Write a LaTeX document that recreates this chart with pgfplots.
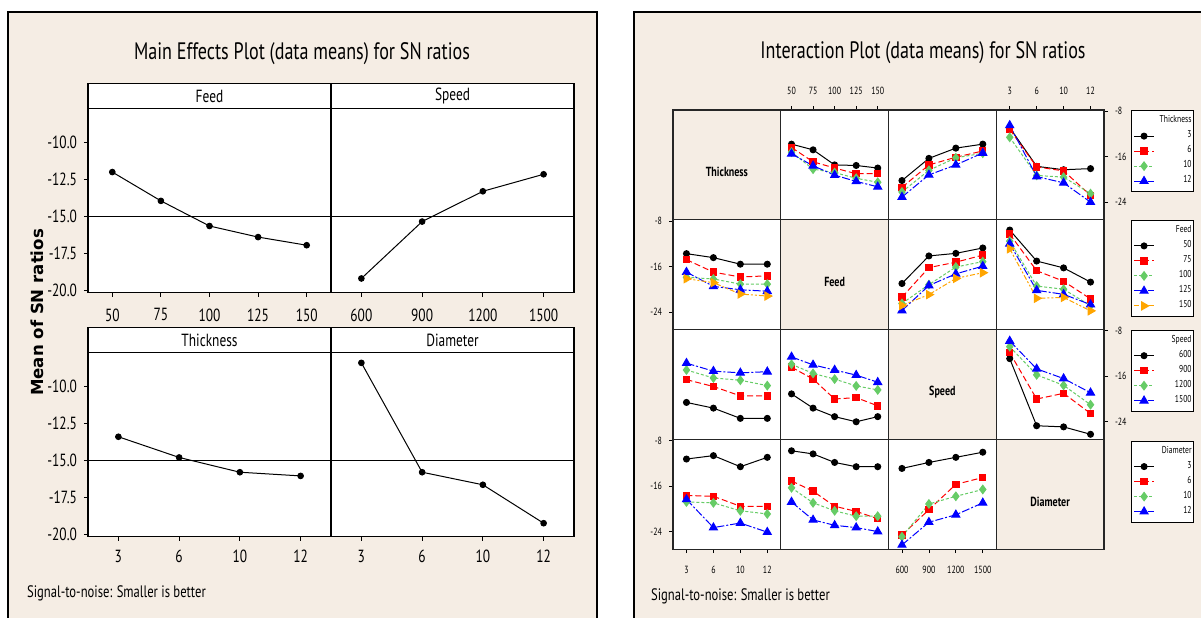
\documentclass[border=0pt]{standalone}
\usepackage{fontspec}
\setmainfont{PT Sans}[FakeStretch=0.76]
\newfontfamily\ylabfont{DejaVu Sans}
\usepackage{graphicx}
\usepackage{pgfplots}
\usepackage{pgfplotstable}
\pgfplotsset{compat=1.18}
\definecolor{bg}{RGB}{245,237,228}
\definecolor{mred}{RGB}{255,0,0}
\definecolor{mgreen}{RGB}{102,204,102}
\definecolor{mblue}{RGB}{0,0,255}
\definecolor{morange}{RGB}{255,165,0}

% ---------- Main effects data ----------
\pgfplotstableread{
x y
0 -12.0
1 -13.95
2 -15.65
3 -16.4
4 -16.95
}\meFeed
\pgfplotstableread{
x y
0 -19.2
1 -15.35
2 -13.3
3 -12.15
}\meSpeed
\pgfplotstableread{
x y
0 -13.4
1 -14.8
2 -15.8
3 -16.05
}\meThick
\pgfplotstableread{
x y
0 -8.4
1 -15.8
2 -16.65
3 -19.25
}\meDiam

% ---------- Interaction data ----------
% row 1: Thickness series (3,6,10,12)
\pgfplotstableread{
x a b c d
0 -13.8 -14.4 -15.2 -15.5
1 -14.8 -16.9 -18.2 -17.6
2 -17.45 -18.0 -18.8 -19.25
3 -17.55 -19.0 -19.8 -20.35
4 -18.0 -19.0 -20.5 -21.3
}\tAB
\pgfplotstableread{
x a b c d
0 -20.2 -21.4 -22.2 -23.1
1 -16.3 -17.45 -18.4 -19.2
2 -14.5 -16.1 -16.2 -17.45
3 -13.8 -15.0 -15.4 -15.35
}\tAC
\pgfplotstableread{
x a b c d
0 -10.9 -11.2 -12.6 -10.5
1 -17.7 -17.8 -19.3 -19.5
2 -18.3 -18.5 -19.6 -20.6
3 -18.1 -22.8 -22.5 -24.0
}\tAD
% row 2: Feed series (50,75,100,125,150)
\pgfplotstableread{
x a b c d e
0 -13.75 -14.8 -17.9 -17.0 -18.15
1 -14.45 -17.0 -18.2 -19.5 -18.85
2 -15.6 -17.85 -19.1 -20.1 -20.85
3 -15.6 -17.65 -19.1 -20.35 -21.2
}\tBA
\pgfplotstableread{
x a b c d e
0 -19.0 -21.4 -22.5 -23.75 -22.85
1 -14.15 -16.2 -19.2 -19.35 -20.95
2 -13.7 -15.25 -16.1 -17.3 -18.1
3 -12.75 -14.0 -15.15 -15.95 -17.1
}\tBC
\pgfplotstableread{
x a b c d e
0 -9.6 -10.3 -11.55 -12.0 -12.9
1 -15.05 -16.75 -19.45 -20.2 -21.6
2 -16.25 -18.6 -20.0 -20.9 -21.45
3 -18.75 -21.7 -22.9 -22.7 -23.8
}\tBD
% row 3: Speed series (600,900,1200,1500)
\pgfplotstableread{
x a b c d
0 -20.6 -16.6 -14.9 -13.7
1 -21.6 -17.8 -16.3 -15.1
2 -23.4 -19.45 -16.7 -15.4
3 -23.4 -19.45 -17.65 -15.2
}\tCA
\pgfplotstableread{
x a b c d
0 -19.1 -14.4 -13.9 -12.6
1 -21.6 -16.5 -15.5 -14.0
2 -23.1 -20.0 -16.5 -14.9
3 -24.0 -19.75 -17.7 -15.8
4 -23.1 -21.2 -18.4 -17.05
}\tCB
\pgfplotstableread{
x a b c d
0 -12.9 -11.85 -10.8 -9.8
1 -24.7 -20.0 -15.75 -14.7
2 -24.9 -19.0 -17.6 -16.4
3 -26.2 -22.55 -21.0 -18.9
}\tCD
% row 4: Diameter series (3,6,10,12)
\pgfplotstableread{
x a b c d
0 -11.25 -17.65 -18.8 -18.35
1 -10.65 -17.8 -18.95 -23.3
2 -12.6 -19.55 -20.35 -22.5
3 -10.95 -19.55 -20.9 -24.1
}\tDA
\pgfplotstableread{
x a b c d
0 -9.8 -15.1 -16.3 -18.8
1 -10.35 -16.9 -18.95 -21.95
2 -11.85 -19.55 -20.35 -22.9
3 -12.6 -20.45 -21.3 -23.3
4 -12.6 -21.75 -21.3 -24.0
}\tDB
\pgfplotstableread{
x a b c d
0 -12.9 -24.6 -24.9 -26.35
1 -11.85 -20.15 -19.15 -22.35
2 -10.95 -15.7 -17.8 -21.05
3 -10.05 -14.5 -16.6 -18.95
}\tDC

\pgfplotsset{
  me/.style={scale only axis, width=121.5pt, height=92pt, xmin=-0.5,
    ymin=-20.15, ymax=-7.7, ytick=\empty,
    axis line style={line width=0.75pt},
    axis background/.style={fill=white},
    tick align=outside, major tick length=2pt,
    tick style={black, line width=0.5pt},
    xtick pos=left, ytick pos=left,
    tick label style={font=\fontsize{8.8}{9}\selectfont},
    clip=false},
  meline/.style={black, line width=0.5pt, mark=*, mark size=1.4pt},
  meref/.style={black, line width=0.5pt, no marks},
  ip/.style={scale only axis, width=53.875pt, height=54.9pt,
    ymin=-27.1, ymax=-7.8, xmin=-0.5, xtick=\empty, ytick=\empty,
    axis line style={line width=0.6pt, black!85},
    axis background/.style={fill=white},
    tick align=outside, major tick length=2pt,
    tick style={black, line width=0.4pt},
    tick label style={font=\fontsize{5.2}{5.5}\selectfont},
    legend image code/.code={\draw[mark repeat=2,mark phase=2] plot coordinates {(0pt,0pt)(5pt,0pt)(10pt,0pt)};},
    legend cell align=right,
    legend style={draw=black, line width=0.6pt, fill=white,
      font=\fontsize{5}{6}\selectfont, inner xsep=1pt, inner ysep=1.5pt,
      anchor=north west, /tikz/column sep=1pt,
      nodes={inner sep=0pt, text height=4.5pt, text depth=3pt}}},
  diag/.style={ip, xmax=1, axis background/.style={fill=bg}},
  sA/.style={black, solid, line width=0.5pt, mark=*, mark size=1.5pt, mark options={solid}},
  sB/.style={mred, dash pattern=on 3pt off 1.5pt, line width=0.5pt, mark=square*, mark size=1.6pt, mark options={solid}},
  sC/.style={mgreen, dash pattern=on 1.5pt off 1pt, line width=0.5pt, mark=diamond*, mark size=2.1pt, mark options={solid}},
  sD/.style={mblue, dash pattern=on 4pt off 1pt on 1pt off 1pt, line width=0.5pt, mark=triangle*, mark size=2.3pt, mark options={solid}},
  sE/.style={morange, dash pattern=on 2.5pt off 1pt on 1pt off 1pt on 1pt off 1pt, line width=0.5pt, mark=triangle*, mark size=2.3pt, mark options={solid, rotate=-90}},
}
\newcommand{\lb}[1]{\makebox[17.5pt][r]{#1}}
\newcommand{\dlab}[1]{\node[font=\bfseries\fontsize{6.6}{7}\selectfont] at (rel axis cs:0.5,0.435) {#1};}

\begin{document}
\begin{tikzpicture}
\path[use as bounding box] (0,0) rectangle (600.5pt,-308.5pt);
% frames
\draw[line width=0.75pt, fill=bg] (4pt,-6pt) rectangle (298.5pt,-320pt);
\draw[line width=0.75pt, fill=bg] (317pt,-6pt) rectangle (610pt,-320pt);
% titles
\node[font=\fontsize{11.9}{13}\selectfont] at (151pt,-27pt) {Main Effects Plot (data means) for SN ratios};
\node[font=\fontsize{11.9}{13}\selectfont] at (461.5pt,-26.5pt) {Interaction Plot (data means) for SN ratios};
\node[font=\fontsize{8.3}{9}\selectfont, anchor=west] at (10pt,-296.5pt) {Signal-to-noise: Smaller is better};
\node[font=\fontsize{8.3}{9}\selectfont, anchor=west] at (322pt,-298.3pt) {Signal-to-noise: Smaller is better};
\node[font=\ylabfont\bfseries\fontsize{8.3}{9}\selectfont, rotate=90] at (18.6pt,-156.25pt) {Mean of SN ratios};

% ===== Main effects =====
\begin{axis}[me, at={(44pt,-146.25pt)}, anchor=south west, xmax=4.5,
  xtick={0,...,4}, xticklabels={50,75,100,125,150},
  ytick={-20,-17.5,-15,-12.5,-10}, yticklabels={-20.0,-17.5,-15.0,-12.5,-10.0},
  xticklabel style={yshift=-2.5pt}]
\addplot[meref] coordinates {(-0.5,-15) (4.5,-15)};
\addplot[meline] table[x=x,y=y]{\meFeed};
\draw[line width=0.75pt, fill=white] (rel axis cs:0,1) rectangle (rel axis cs:1,1.1359);
\node[font=\fontsize{8.8}{9}\selectfont] at (rel axis cs:0.5,1.068) {Feed};
\end{axis}
\begin{axis}[me, at={(165.5pt,-146.25pt)}, anchor=south west, xmax=3.5,
  xtick={0,...,3}, xticklabels={600,900,1200,1500},
  xticklabel style={yshift=-2.5pt}]
\addplot[meref] coordinates {(-0.5,-15) (3.5,-15)};
\addplot[meline] table[x=x,y=y]{\meSpeed};
\draw[line width=0.75pt, fill=white] (rel axis cs:0,1) rectangle (rel axis cs:1,1.1359);
\node[font=\fontsize{8.8}{9}\selectfont] at (rel axis cs:0.5,1.068) {Speed};
\end{axis}
\begin{axis}[me, at={(44pt,-268.25pt)}, anchor=south west, xmax=3.5,
  xtick={0,...,3}, xticklabels={3,6,10,12},
  ytick={-20,-17.5,-15,-12.5,-10}, yticklabels={-20.0,-17.5,-15.0,-12.5,-10.0},
  xticklabel style={yshift=-1.3pt}]
\addplot[meref] coordinates {(-0.5,-15) (3.5,-15)};
\addplot[meline] table[x=x,y=y]{\meThick};
\draw[line width=0.75pt, fill=white] (rel axis cs:0,1) rectangle (rel axis cs:1,1.1359);
\node[font=\fontsize{8.8}{9}\selectfont] at (rel axis cs:0.5,1.068) {Thickness};
\end{axis}
\begin{axis}[me, at={(165.5pt,-268.25pt)}, anchor=south west, xmax=3.5,
  xtick={0,...,3}, xticklabels={3,6,10,12},
  xticklabel style={yshift=-1.3pt}]
\addplot[meref] coordinates {(-0.5,-15) (3.5,-15)};
\addplot[meline] table[x=x,y=y]{\meDiam};
\draw[line width=0.75pt, fill=white] (rel axis cs:0,1) rectangle (rel axis cs:1,1.1359);
\node[font=\fontsize{8.8}{9}\selectfont] at (rel axis cs:0.5,1.068) {Diameter};
\end{axis}

% ===== Interaction plot =====
% Row 1
\begin{axis}[diag, at={(336.5pt,-109.9pt)}, anchor=south west]
\dlab{Thickness}
\end{axis}
\begin{axis}[ip, at={(390.375pt,-109.9pt)}, anchor=south west, xmax=4.5,
  xtick={0,...,4}, xticklabels={50,75,100,125,150},
  xtick pos=right, xticklabel pos=right, xticklabel style={yshift=2pt}]
\addplot[sA] table[x=x,y=a]{\tAB};
\addplot[sB] table[x=x,y=b]{\tAB};
\addplot[sC] table[x=x,y=c]{\tAB};
\addplot[sD] table[x=x,y=d]{\tAB};
\end{axis}
\begin{axis}[ip, at={(444.25pt,-109.9pt)}, anchor=south west, xmax=3.5]
\addplot[sA] table[x=x,y=a]{\tAC};
\addplot[sB] table[x=x,y=b]{\tAC};
\addplot[sC] table[x=x,y=c]{\tAC};
\addplot[sD] table[x=x,y=d]{\tAC};
\end{axis}
\begin{axis}[ip, at={(498.125pt,-109.9pt)}, anchor=south west, xmax=3.5,
  xtick={0,...,3}, xticklabels={3,6,10,12},
  xtick pos=right, xticklabel pos=right, xticklabel style={yshift=2pt},
  ytick={-24,-16,-8}, yticklabels={-24,-16,-8}, ytick pos=right, yticklabel pos=right,
  legend style={at={(1.25,1)}}]
\addlegendimage{empty legend}\addlegendentry{\lb{Thickness}}
\addplot[sA] table[x=x,y=a]{\tAD}; \addlegendentry{\lb{3}}
\addplot[sB] table[x=x,y=b]{\tAD}; \addlegendentry{\lb{6}}
\addplot[sC] table[x=x,y=c]{\tAD}; \addlegendentry{\lb{10}}
\addplot[sD] table[x=x,y=d]{\tAD}; \addlegendentry{\lb{12}}
\end{axis}
% Row 2
\begin{axis}[ip, at={(336.5pt,-164.8pt)}, anchor=south west, xmax=3.5,
  ytick={-24,-16,-8}, yticklabels={-24,-16,-8}, ytick pos=left]
\addplot[sA] table[x=x,y=a]{\tBA};
\addplot[sB] table[x=x,y=b]{\tBA};
\addplot[sC] table[x=x,y=c]{\tBA};
\addplot[sD] table[x=x,y=d]{\tBA};
\addplot[sE] table[x=x,y=e]{\tBA};
\end{axis}
\begin{axis}[diag, at={(390.375pt,-164.8pt)}, anchor=south west]
\dlab{Feed}
\end{axis}
\begin{axis}[ip, at={(444.25pt,-164.8pt)}, anchor=south west, xmax=3.5]
\addplot[sA] table[x=x,y=a]{\tBC};
\addplot[sB] table[x=x,y=b]{\tBC};
\addplot[sC] table[x=x,y=c]{\tBC};
\addplot[sD] table[x=x,y=d]{\tBC};
\addplot[sE] table[x=x,y=e]{\tBC};
\end{axis}
\begin{axis}[ip, at={(498.125pt,-164.8pt)}, anchor=south west, xmax=3.5,
  legend style={at={(1.25,1)}}]
\addlegendimage{empty legend}\addlegendentry{\lb{Feed}}
\addplot[sA] table[x=x,y=a]{\tBD}; \addlegendentry{\lb{50}}
\addplot[sB] table[x=x,y=b]{\tBD}; \addlegendentry{\lb{75}}
\addplot[sC] table[x=x,y=c]{\tBD}; \addlegendentry{\lb{100}}
\addplot[sD] table[x=x,y=d]{\tBD}; \addlegendentry{\lb{125}}
\addplot[sE] table[x=x,y=e]{\tBD}; \addlegendentry{\lb{150}}
\end{axis}
% Row 3
\begin{axis}[ip, at={(336.5pt,-219.7pt)}, anchor=south west, xmax=3.5]
\addplot[sA] table[x=x,y=a]{\tCA};
\addplot[sB] table[x=x,y=b]{\tCA};
\addplot[sC] table[x=x,y=c]{\tCA};
\addplot[sD] table[x=x,y=d]{\tCA};
\end{axis}
\begin{axis}[ip, at={(390.375pt,-219.7pt)}, anchor=south west, xmax=4.5]
\addplot[sA] table[x=x,y=a]{\tCB};
\addplot[sB] table[x=x,y=b]{\tCB};
\addplot[sC] table[x=x,y=c]{\tCB};
\addplot[sD] table[x=x,y=d]{\tCB};
\end{axis}
\begin{axis}[diag, at={(444.25pt,-219.7pt)}, anchor=south west]
\dlab{Speed}
\end{axis}
\begin{axis}[ip, at={(498.125pt,-219.7pt)}, anchor=south west, xmax=3.5,
  ytick={-24,-16,-8}, yticklabels={-24,-16,-8}, ytick pos=right, yticklabel pos=right,
  legend style={at={(1.25,1)}}]
\addlegendimage{empty legend}\addlegendentry{\lb{Speed}}
\addplot[sA] table[x=x,y=a]{\tCD}; \addlegendentry{\lb{600}}
\addplot[sB] table[x=x,y=b]{\tCD}; \addlegendentry{\lb{900}}
\addplot[sC] table[x=x,y=c]{\tCD}; \addlegendentry{\lb{1200}}
\addplot[sD] table[x=x,y=d]{\tCD}; \addlegendentry{\lb{1500}}
\end{axis}
% Row 4
\begin{axis}[ip, at={(336.5pt,-274.6pt)}, anchor=south west, xmax=3.5,
  ytick={-24,-16,-8}, yticklabels={-24,-16,-8}, ytick pos=left,
  xtick={0,...,3}, xticklabels={3,6,10,12}, xtick pos=left, xticklabel style={yshift=-3pt}]
\addplot[sA] table[x=x,y=a]{\tDA};
\addplot[sB] table[x=x,y=b]{\tDA};
\addplot[sC] table[x=x,y=c]{\tDA};
\addplot[sD] table[x=x,y=d]{\tDA};
\end{axis}
\begin{axis}[ip, at={(390.375pt,-274.6pt)}, anchor=south west, xmax=4.5]
\addplot[sA] table[x=x,y=a]{\tDB};
\addplot[sB] table[x=x,y=b]{\tDB};
\addplot[sC] table[x=x,y=c]{\tDB};
\addplot[sD] table[x=x,y=d]{\tDB};
\end{axis}
\begin{axis}[ip, at={(444.25pt,-274.6pt)}, anchor=south west, xmax=3.5,
  xtick={0,...,3}, xticklabels={600,900,1200,1500}, xtick pos=left, xticklabel style={yshift=-3pt},
  legend style={at={(2.2506,0.99)}}]
\addlegendimage{empty legend}\addlegendentry{\lb{Diameter}}
\addplot[sA] table[x=x,y=a]{\tDC}; \addlegendentry{\lb{3}}
\addplot[sB] table[x=x,y=b]{\tDC}; \addlegendentry{\lb{6}}
\addplot[sC] table[x=x,y=c]{\tDC}; \addlegendentry{\lb{10}}
\addplot[sD] table[x=x,y=d]{\tDC}; \addlegendentry{\lb{12}}
\end{axis}
\begin{axis}[diag, at={(498.125pt,-274.6pt)}, anchor=south west]
\dlab{Diameter}
\end{axis}
\end{tikzpicture}
\end{document}
